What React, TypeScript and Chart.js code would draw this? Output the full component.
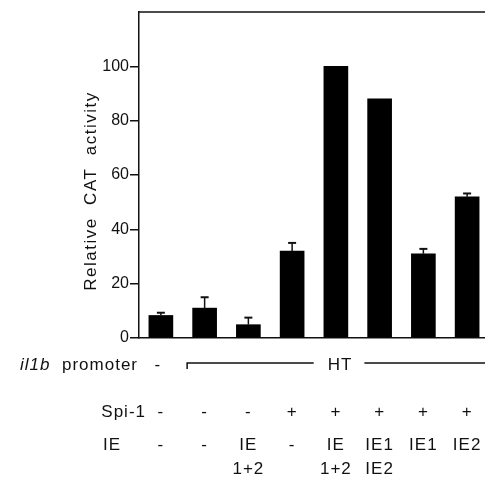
import React, { useEffect, useRef } from 'react';
import { Chart, registerables } from 'chart.js';

Chart.register(...registerables);

const lanes = ['1', '2', '3', '4', '5', '6', '7', '8'];
const activity = [8.3, 11, 4.9, 32, 100, 88, 31, 52];
const errorUp = [1, 4, 2.6, 3, 0, 0, 1.8, 1.2];
const yTicks = [0, 20, 40, 60, 80, 100];
const promoterRow = ['-', 'HT', 'HT', 'HT', 'HT', 'HT', 'HT', 'HT'];
const spi1Row = ['-', '-', '-', '+', '+', '+', '+', '+'];
const ieRow1 = ['-', '-', 'IE', '-', 'IE', 'IE1', 'IE1', 'IE2'];
const ieRow2 = ['', '', '1+2', '', '1+2', 'IE2', '', ''];
const yTitle = 'Relative  CAT  activity';
const promoterItalic = 'il1b';
const promoterLabel = 'promoter';
const spi1Label = 'Spi-1';
const ieLabel = 'IE';

const FONT = '"Liberation Sans", Arial, Helvetica, sans-serif';
const INK = '#111';

const errorBars = {
  id: 'errorBars',
  afterDatasetsDraw(chart: any) {
    const { ctx } = chart;
    const meta = chart.getDatasetMeta(0);
    const y = chart.scales.y;
    ctx.save();
    ctx.strokeStyle = INK;
    meta.data.forEach((bar: any, i: number) => {
      const e = errorUp[i];
      if (!e) return;
      const top = y.getPixelForValue(activity[i] + e);
      ctx.lineWidth = 1.5;
      ctx.beginPath();
      ctx.moveTo(bar.x, bar.y);
      ctx.lineTo(bar.x, top);
      ctx.stroke();
      ctx.lineWidth = 2;
      ctx.beginPath();
      ctx.moveTo(bar.x - 4, top);
      ctx.lineTo(bar.x + 4, top);
      ctx.stroke();
    });
    ctx.restore();
  },
};

const annotations = {
  id: 'annotations',
  afterDraw(chart: any) {
    const { ctx, chartArea } = chart;
    const xs = chart.scales.x;
    const px = (i: number) => xs.getPixelForValue(i);
    const step = px(1) - px(0);
    ctx.save();
    ctx.strokeStyle = INK;
    ctx.fillStyle = INK;

    // top frame line
    ctx.lineWidth = 1.5;
    ctx.beginPath();
    ctx.moveTo(chartArea.left - 0.75, chartArea.top);
    ctx.lineTo(chart.width, chartArea.top);
    ctx.stroke();

    // y title
    ctx.save();
    ctx.font = `17px ${FONT}`;
    (ctx as any).letterSpacing = '1.5px';
    ctx.textAlign = 'center';
    ctx.textBaseline = 'middle';
    ctx.translate(91, chartArea.top + 179);
    ctx.rotate(-Math.PI / 2);
    ctx.fillText(yTitle, 0, 0);
    ctx.restore();

    const b = chartArea.bottom;
    const rowPromoter = b + 27;
    const rowSpi = b + 74;
    const rowIE = b + 107;
    const rowIE2 = b + 131;

    (ctx as any).letterSpacing = '1px';
    ctx.textBaseline = 'middle';

    // row labels
    ctx.textAlign = 'left';
    ctx.font = `italic 17px ${FONT}`;
    ctx.fillText(promoterItalic, 20, rowPromoter);
    ctx.font = `17px ${FONT}`;
    ctx.textAlign = 'right';
    ctx.fillText(promoterLabel, 138, rowPromoter);
    ctx.fillText(spi1Label, 146, rowSpi);
    ctx.textAlign = 'left';
    ctx.fillText(ieLabel, 103, rowIE);

    // promoter row
    ctx.textAlign = 'center';
    const group: number[] = [];
    promoterRow.forEach((t, i) => {
      if (t === '-') ctx.fillText(t, px(i) - 3, rowPromoter);
      else group.push(i);
    });
    if (group.length) {
      const left = px(group[0]) - step * 0.4;
      const right = chartArea.right;
      const mid = (left + right) / 2;
      const label = promoterRow[group[0]];
      const w = ctx.measureText(label).width;
      const ly = rowPromoter - 2;
      ctx.fillText(label, mid + 2, rowPromoter);
      ctx.lineWidth = 1.5;
      ctx.beginPath();
      ctx.moveTo(left, ly + 6);
      ctx.lineTo(left, ly);
      ctx.lineTo(mid - w / 2 - 12, ly);
      ctx.moveTo(mid + w / 2 + 14, ly);
      ctx.lineTo(right, ly);
      ctx.stroke();
    }

    // Spi-1 and IE rows
    spi1Row.forEach((t, i) => ctx.fillText(t, px(i), rowSpi));
    ieRow1.forEach((t, i) => ctx.fillText(t, px(i), rowIE));
    ieRow2.forEach((t, i) => t && ctx.fillText(t, px(i), rowIE2));

    ctx.restore();
  },
};

export default function App() {
  const ref = useRef<HTMLCanvasElement>(null);
  useEffect(() => {
    if (!ref.current) return;
    const chart = new Chart(ref.current, {
      type: 'bar',
      data: {
        labels: lanes,
        datasets: [
          {
            data: activity,
            backgroundColor: '#000',
            borderWidth: 0,
            barThickness: 24,
          },
        ],
      },
      options: {
        responsive: false,
        animation: false,
        devicePixelRatio: 1,
        layout: { padding: { top: 12, right: 11, left: 0, bottom: 0 } },
        plugins: { legend: { display: false }, tooltip: { enabled: false } },
        scales: {
          x: {
            offset: true,
            ticks: { display: false },
            grid: { display: false },
            border: { display: true, color: INK, width: 1.5 },
            afterFit: (s: any) => {
              s.height = 139;
            },
          },
          y: {
            min: 0,
            max: 120,
            afterBuildTicks: (s: any) => {
              s.ticks = yTicks.map((v) => ({ value: v }));
            },
            ticks: {
              color: INK,
              font: { family: FONT, size: 16 },
              padding: 1,
            },
            grid: {
              drawOnChartArea: false,
              drawTicks: true,
              tickLength: 9,
              color: INK,
              lineWidth: 1.5,
            },
            border: { display: true, color: INK, width: 1.5 },
            afterFit: (s: any) => {
              s.width = 139;
            },
          },
        },
      },
      plugins: [errorBars, annotations],
    });
    return () => chart.destroy();
  }, []);
  return (
    <div style={{ position: 'fixed', left: 0, top: 0, width: 485, height: 477, overflow: 'hidden', background: '#fff' }}>
      <canvas ref={ref} width={500} height={477} style={{ display: 'block' }} />
    </div>
  );
}
